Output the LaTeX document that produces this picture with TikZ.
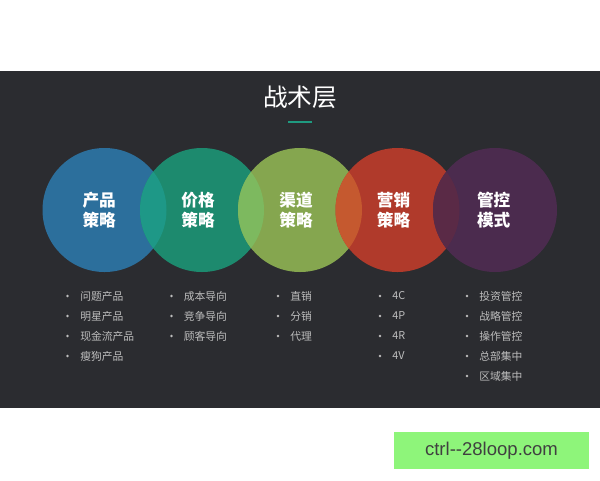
\documentclass[tikz,border=0pt]{standalone}
\usepackage{fontspec}
\setmainfont{Noto Sans CJK SC}
\newfontfamily\webfont{Liberation Sans}
\usetikzlibrary{positioning}

\definecolor{panelbg}{HTML}{2B2C30}
\definecolor{itemgray}{HTML}{BDBDBD}
\definecolor{lineteal}{HTML}{1F9A80}
\definecolor{cpro}{HTML}{2C6F9C}
\definecolor{cpri}{HTML}{1D8A6E}
\definecolor{ccha}{HTML}{85A64F}
\definecolor{cmkt}{HTML}{B03A2B}
\definecolor{cctl}{HTML}{4B2B4E}
\definecolor{ovA}{HTML}{1E9887}
\definecolor{ovB}{HTML}{7DB95F}
\definecolor{ovC}{HTML}{C5592F}
\definecolor{ovD}{HTML}{5A2A46}
\definecolor{webgreen}{HTML}{8EF57A}

\begin{document}
\begin{tikzpicture}[x=0.75pt, y=-0.75pt,
    every node/.style={font=\fontsize{8.1}{10}\selectfont},
    ball/.style={circle, minimum size=93pt, inner sep=0pt},
    balltext/.style={align=center, text=white, inner sep=0pt,
        font=\bfseries\fontsize{12.5}{15}\selectfont},
    item/.style={anchor=west, inner sep=0pt, text=itemgray}]
    \useasboundingbox (0,0) rectangle (600,480);
    \fill[white] (0,0) rectangle (600,480);
    \fill[panelbg] (0,71) rectangle (600,408);

    \node[text=white, font=\fontsize{18.5}{20}\selectfont] (title) at (300,97.5) {战术层};
    \draw[lineteal, line width=1.5pt] (288,121.5) -- (312,121.5);

    \node[ball, fill=cpro] (pro) at (104.5,210) {};
    \node[ball, fill=cpri] (pri) at (202,210) {};
    \node[ball, fill=ccha] (cha) at (300,210) {};
    \node[ball, fill=cmkt] (mkt) at (397.5,210) {};
    \node[ball, fill=cctl] (ctl) at (495,210) {};

    % overlaps of neighbouring circles
    \begin{scope}
    \clip (pro.center) circle (46.5pt);
    \fill[ovA] (pri.center) circle (46.5pt);
    \end{scope}
    \begin{scope}
    \clip (pri.center) circle (46.5pt);
    \fill[ovB] (cha.center) circle (46.5pt);
    \end{scope}
    \begin{scope}
    \clip (cha.center) circle (46.5pt);
    \fill[ovC] (mkt.center) circle (46.5pt);
    \end{scope}
    \begin{scope}
    \clip (mkt.center) circle (46.5pt);
    \fill[ovD] (ctl.center) circle (46.5pt);
    \end{scope}

    \node[balltext] (tpro) at ([xshift=-4pt]pro.center) {产品\\策略};
    \node[balltext] (tpri) at ([xshift=-3pt]pri.center) {价格\\策略};
    \node[balltext] (tcha) at ([xshift=-3pt]cha.center) {渠道\\策略};
    \node[balltext] (tmkt) at ([xshift=-3pt]mkt.center) {营销\\策略};
    \node[balltext] (tctl) at ([xshift=-1pt]ctl.center) {管控\\模式};

    \foreach \t [count=\k] in {问题产品,明星产品,现金流产品,瘦狗产品} {
        \node[item] (pa\k) at (80,276+20*\k) {\t};
        \fill[itemgray] (67.5,276+20*\k) circle (1pt);
    }
    \foreach \t [count=\k] in {成本导向,竞争导向,顾客导向} {
        \node[item] (pb\k) at (183.5,276+20*\k) {\t};
        \fill[itemgray] (171.5,276+20*\k) circle (1pt);
    }
    \foreach \t [count=\k] in {直销,分销,代理} {
        \node[item] (pc\k) at (290,276+20*\k) {\t};
        \fill[itemgray] (278,276+20*\k) circle (1pt);
    }
    \foreach \t [count=\k] in {4C,4P,4R,4V} {
        \node[item] (pd\k) at (392,276+20*\k) {\t};
        \fill[itemgray] (380,276+20*\k) circle (1pt);
    }
    \foreach \t [count=\k] in {投资管控,战略管控,操作管控,总部集中,区域集中} {
        \node[item] (pe\k) at (479,276+20*\k) {\t};
        \fill[itemgray] (467,276+20*\k) circle (1pt);
    }

    \node[fill=webgreen, minimum width=146pt, minimum height=28pt, inner sep=0pt,
        text=black!75, font=\webfont\fontsize{13.9}{15}\selectfont] (web) at (491.5,450.5) {ctrl--28loop.com};
\end{tikzpicture}
\end{document}
